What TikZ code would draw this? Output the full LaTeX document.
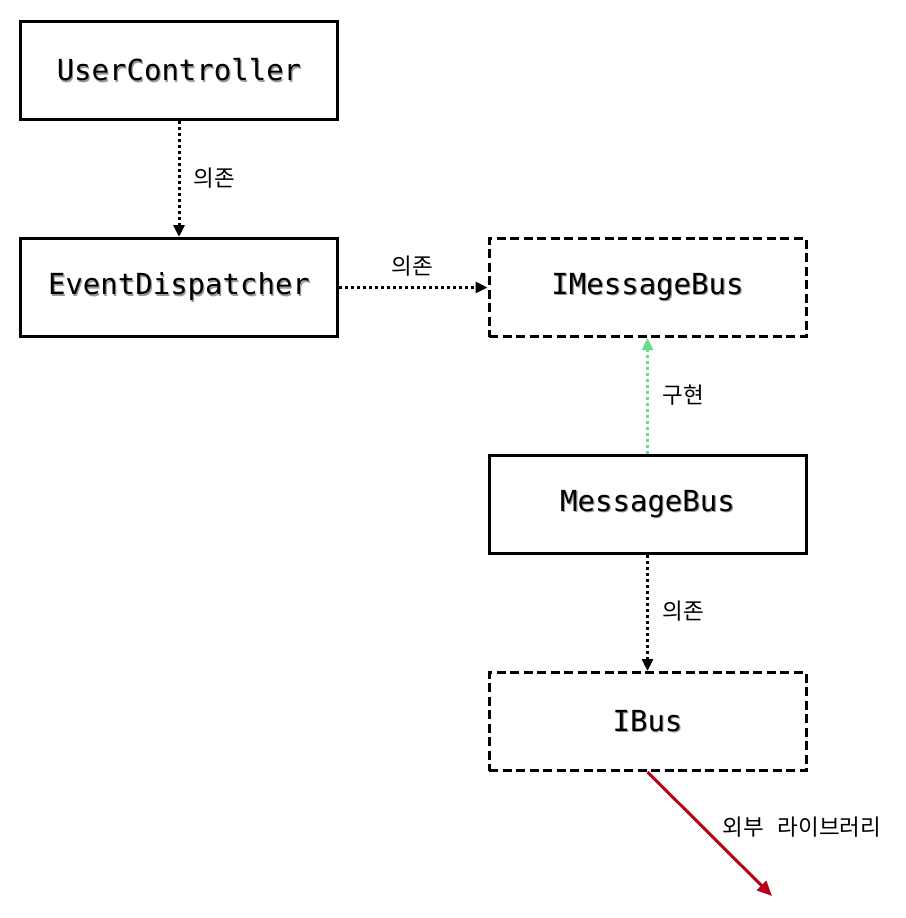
\documentclass[tikz,border=0pt]{standalone}
\usepackage{fontspec}
\setmonofont{DejaVu Sans Mono}
\newfontfamily\kofont{Noto Sans CJK KR}
\usetikzlibrary{arrows.meta}
\definecolor{implgreen}{HTML}{6CD98C}
\definecolor{extred}{HTML}{B5001A}
\newcommand\shadowtxt[1]{\rlap{\hspace{1.2pt}\raisebox{-1.4pt}{\color{black!40}#1}}#1}
\tikzset{
  cls/.style={draw=black, line width=3pt, fill=white, minimum width=317pt, minimum height=98pt, inner sep=0pt,
    font=\ttfamily\fontsize{29}{32}\selectfont},
  iface/.style={cls, dash pattern=on 9pt off 4.5pt},
  dep/.style={line width=3pt, dash pattern=on 3pt off 3pt, -{Triangle[length=12pt,width=11pt]}},
  impl/.style={dep, draw=implgreen, -{Triangle[length=12pt,width=11pt,fill=implgreen]}},
  ext/.style={line width=3pt, draw=extred, -{Triangle[length=15pt,width=13pt,fill=extred]}},
  lbl/.style={font=\kofont\fontsize{22.5}{26}\selectfont, inner sep=0pt}
}
\begin{document}
\begin{tikzpicture}[x=1pt,y=-1pt]
\useasboundingbox (0,0) rectangle (905,918);
\node[cls] (uc) at (179,70.5) {\shadowtxt{UserController}};
\node[cls] (ed) at (179,287.5) {\shadowtxt{EventDispatcher}};
\node[iface] (imb) at (647.5,287.5) {\shadowtxt{IMessageBus}};
\node[cls] (mb) at (647.5,504.5) {\shadowtxt{MessageBus}};
\node[iface] (ib) at (647.5,721.5) {\shadowtxt{IBus}};
\coordinate (extend) at (772,896);
\draw[dep] (uc.south) -- (ed.north);
\draw[dep] (ed.east) -- (imb.west);
\draw[impl] (mb.north) -- (imb.south);
\draw[dep] (mb.south) -- (ib.north);
\draw[ext] (ib.south) -- (extend);
\node[lbl] (l1) at (214,178) {의존};
\node[lbl] (l2) at (412,266) {의존};
\node[lbl] (l3) at (683,395) {구현};
\node[lbl] (l4) at (683,611) {의존};
\node[lbl] (l5) at (802,827) {외부\hspace{0.6em}라이브러리};
\end{tikzpicture}
\end{document}
